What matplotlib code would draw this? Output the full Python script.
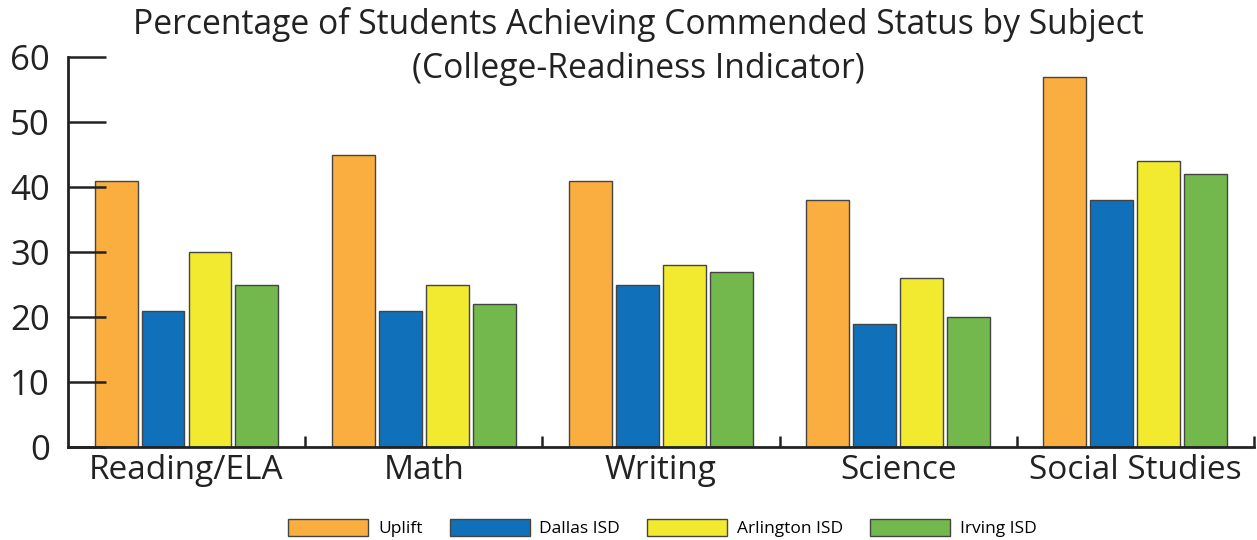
import matplotlib.pyplot as plt
import numpy as np

plt.rcParams['font.family'] = ['Open Sans', 'DejaVu Sans']

subjects = ['Reading/ELA', 'Math', 'Writing', 'Science', 'Social Studies']
districts = ['Uplift', 'Dallas ISD', 'Arlington ISD', 'Irving ISD']
uplift = [41, 45, 41, 38, 57]
dallas = [21, 21, 25, 19, 38]
arlington = [30, 25, 28, 26, 44]
irving = [25, 22, 27, 20, 42]
colors = ['#FBAE40', '#1071BA', '#F2EA2F', '#72B84C']

series = [uplift, dallas, arlington, irving]

fig = plt.figure(figsize=(12.57, 5.4), dpi=100)
ax = fig.add_axes([0.054, 0.172, 0.9436, 0.722])

x = np.arange(len(subjects))
step = 0.198
width = 0.181
for i, vals in enumerate(series):
    ax.bar(x + (i - 1.5) * step, vals, width, color=colors[i],
           edgecolor='#444444', linewidth=1.0, label=districts[i])

ax.set_xlim(-0.5, len(subjects) - 0.5)
ax.set_ylim(0, 60)
ax.set_yticks(range(0, 61, 10))
ax.tick_params(axis='y', direction='in', length=27, width=1.8,
               labelsize=25, pad=13, color='#222222', labelcolor='#222222')
ax.set_xticks(x)
ax.set_xticklabels(subjects)
ax.tick_params(axis='x', which='major', length=0, labelsize=24, pad=5,
               labelcolor='#222222')
ax.set_xticks(np.arange(0.5, len(subjects), 1.0), minor=True)
ax.tick_params(axis='x', which='minor', direction='in', length=8, width=1.8,
               color='#222222')

for s in ['top', 'right']:
    ax.spines[s].set_visible(False)
for s in ['left', 'bottom']:
    ax.spines[s].set_linewidth(2)
    ax.spines[s].set_color('#222222')

fig.text(0.508, 0.955, 'Percentage of Students Achieving Commended Status by Subject',
         ha='center', va='center', fontsize=24.2, color='#222222')
fig.text(0.508, 0.873, '(College-Readiness Indicator)',
         ha='center', va='center', fontsize=24.2, color='#222222')

fig.legend(loc='center', bbox_to_anchor=(0.527, 0.022), ncol=4, frameon=False,
           fontsize=12.5, handlelength=4.6, handleheight=1.15, columnspacing=1.55,
           handletextpad=0.57)

fig.savefig('out.png', dpi=100)
